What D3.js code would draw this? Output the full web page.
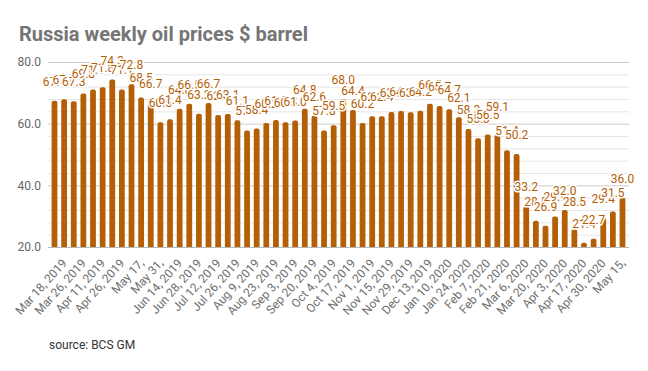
<!DOCTYPE html>
<html>
<head>
<meta charset="utf-8">
<script src="https://cdn.jsdelivr.net/npm/d3@7"></script>
<style>
  body { margin: 0; background: #fff; }
  svg { display: block; font-family: Roboto, "Noto Sans", sans-serif; }
</style>
</head>
<body>
<svg width="648" height="371"></svg>
<script>
var svg = d3.select("svg"),
    margin = {top: 62, right: 19, bottom: 124, left: 48},
    width = svg.attr("width") - margin.left - margin.right,
    height = svg.attr("height") - margin.top - margin.bottom;

// bar heights (one per week)
var prices = [67.4, 67.9, 67.3, 69.8, 71.1, 71.8, 74.3, 71.1, 72.8, 68.5,
              66.7, 60.5, 61.4, 64.8, 66.5, 63.2, 66.7, 62.8, 63.1, 61.1,
              57.8, 58.4, 60.2, 61.2, 60.5, 61.0, 64.8, 62.6, 57.8, 59.5,
              68.0, 64.4, 60.2, 62.4, 62.4, 63.8, 64.1, 63.7, 64.2, 66.5,
              65.7, 64.7, 62.1, 58.3, 55.3, 56.5, 56.3, 51.4, 50.2, 33.2,
              28.5, 26.9, 29.9, 32.0, 25.7, 21.4, 22.7, 29.4, 31.5, 36.0];

// values printed in the data labels (two of them differ from the bar)
var labelValues = [67.4, 67.9, 67.3, 69.8, 71.1, 71.8, 74.3, 71.1, 72.8, 68.5,
                   66.7, 60.5, 61.4, 64.8, 66.5, 63.2, 66.7, 62.8, 63.1, 61.1,
                   57.8, 58.4, 60.2, 61.2, 60.5, 61.0, 64.8, 62.6, 57.8, 59.5,
                   68.0, 64.4, 60.2, 62.4, 62.4, 63.8, 64.1, 63.7, 64.2, 66.5,
                   65.7, 64.7, 62.1, 58.3, 55.3, 56.5, 59.1, 51.4, 50.2, 33.2,
                   28.5, 26.9, 29.9, 32.0, 28.5, 21.4, 22.7, 29.4, 31.5, 36.0];

// x tick labels, shown under every second bar
var tickLabels = ["Mar 18, 2019", "Mar 26, 2019", "Apr 11, 2019", "Apr 26, 2019", "May 17,",
                  "May 31,", "Jun 14, 2019", "Jun 28, 2019", "Jul 12, 2019", "Jul 26, 2019",
                  "Aug 9, 2019", "Aug 23, 2019", "Sep 3, 2019", "Sep 20, 2019", "Oct 4, 2019",
                  "Oct 17, 2019", "Nov 1, 2019", "Nov 15, 2019", "Nov 29, 2019", "Dec 13, 2019",
                  "Jan 10, 2020", "Jan 24, 2020", "Feb 7, 2020", "Feb 21, 2020", "Mar 6, 2020",
                  "Mar 20, 2020", "Apr 3, 2020", "Apr 17, 2020", "Apr 30, 2020", "May 15,"];

var yTicks = [20, 40, 60, 80];

var barColor = "#b45f06";

var g = svg.append("g").attr("transform", "translate(" + margin.left + "," + margin.top + ")");

var x = d3.scaleBand()
    .domain(d3.range(prices.length))
    .range([0, width])
    .paddingInner(0.4)
    .paddingOuter(0.375);

var y = d3.scaleLinear()
    .domain([20, 80])
    .range([height, 0]);

// minor grid
g.append("g")
  .selectAll("line")
  .data(d3.range(20, 80, 4).filter(function(d) { return yTicks.indexOf(d) < 0; }))
  .enter().append("line")
    .attr("x1", 0).attr("x2", width)
    .attr("y1", function(d) { return y(d) + 0.5; })
    .attr("y2", function(d) { return y(d) + 0.5; })
    .attr("stroke", "#e6e6e6");

// major grid
g.append("g")
  .selectAll("line")
  .data(yTicks)
  .enter().append("line")
    .attr("x1", 0).attr("x2", width)
    .attr("y1", function(d) { return y(d) + 0.5; })
    .attr("y2", function(d) { return y(d) + 0.5; })
    .attr("stroke", function(d) { return d == 20 ? "#b7b7b7" : "#cccccc"; });

g.append("g")
  .selectAll("text")
  .data(yTicks)
  .enter().append("text")
    .attr("x", -7)
    .attr("y", function(d) { return y(d); })
    .attr("dy", "0.35em")
    .attr("text-anchor", "end")
    .attr("font-size", 12)
    .attr("fill", "#666")
    .text(function(d) { return d.toFixed(1); });

// bars, rounded on top
var r = 2;
g.append("g")
  .selectAll("path")
  .data(prices)
  .enter().append("path")
    .attr("fill", barColor)
    .attr("d", function(d, i) {
      var x0 = x(i), w = x.bandwidth(), y0 = y(d), y1 = y(20);
      return "M" + x0 + "," + y1 +
             "V" + (y0 + r) +
             "Q" + x0 + "," + y0 + " " + (x0 + r) + "," + y0 +
             "H" + (x0 + w - r) +
             "Q" + (x0 + w) + "," + y0 + " " + (x0 + w) + "," + (y0 + r) +
             "V" + y1 + "Z";
    });

// data labels, white halo like the original
g.append("g")
  .selectAll("text")
  .data(labelValues)
  .enter().append("text")
    .attr("x", function(d, i) { return x(i) + x.bandwidth() / 2; })
    .attr("y", function(d) { return y(d) - 15; })
    .attr("text-anchor", "middle")
    .attr("font-size", 12)
    .attr("fill", barColor)
    .attr("stroke", "#fff")
    .attr("stroke-width", 3)
    .attr("stroke-linejoin", "round")
    .attr("paint-order", "stroke")
    .text(function(d) { return d.toFixed(1); });

// x tick labels under bars 2, 4, 6 ...
g.append("g")
  .selectAll("text")
  .data(tickLabels)
  .enter().append("text")
    .attr("transform", function(d, i) {
      var cx = x(i * 2 + 1) + x.bandwidth() / 2 - 3;
      return "translate(" + cx + "," + (height + 11) + ") rotate(-48)";
    })
    .attr("dy", "0.71em")
    .attr("text-anchor", "end")
    .attr("font-size", 12)
    .attr("fill", "#6f6f6f")
    .text(function(d) { return d; });

svg.append("text")
    .attr("x", 19)
    .attr("y", 41)
    .attr("font-size", 20)
    .attr("font-weight", "bold")
    .attr("fill", "#757575")
    .text("Russia weekly oil prices $ barrel");

svg.append("text")
    .attr("x", 49)
    .attr("y", 349)
    .attr("font-size", 12)
    .attr("fill", "#333")
    .text("source: BCS GM");
</script>
</body>
</html>
